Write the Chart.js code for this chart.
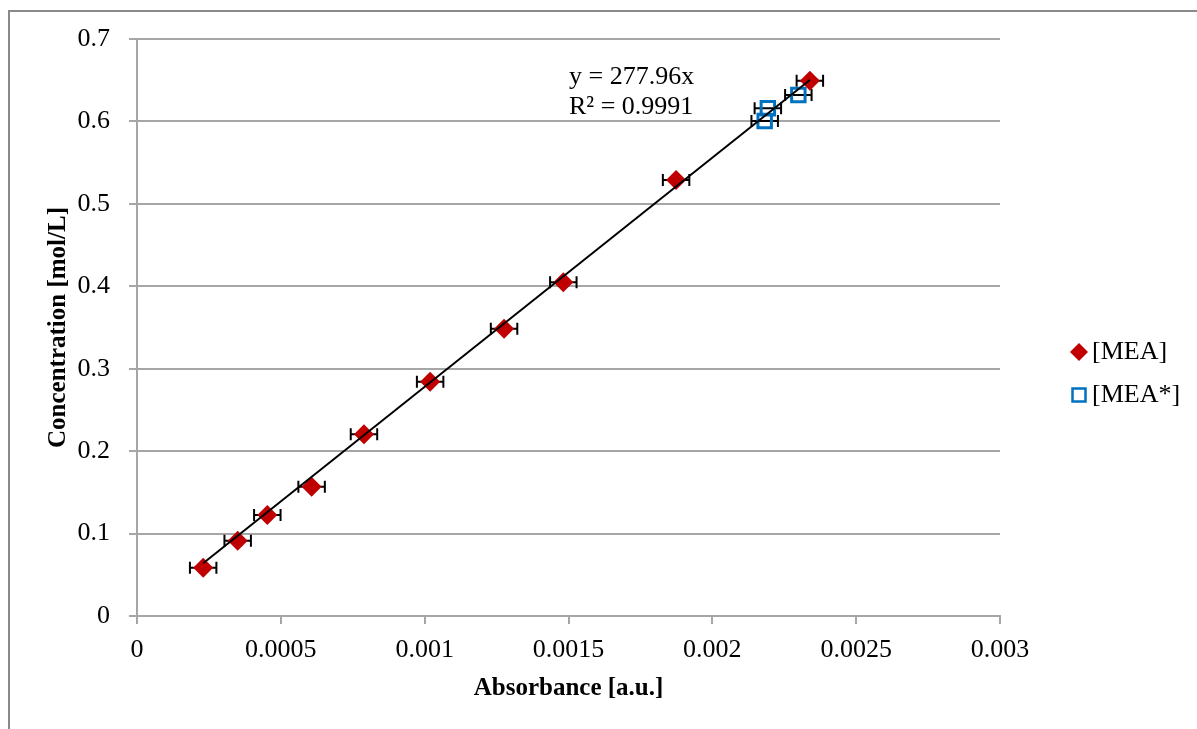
<!DOCTYPE html>
<html><head><meta charset="utf-8">
<script src="https://cdn.jsdelivr.net/npm/chart.js@4.4.0/dist/chart.umd.min.js"></script>
<style>html,body{margin:0;padding:0;background:#fff;} #wrap{width:1197px;height:729px;position:relative;}</style>
</head><body><div id="wrap"><canvas id="c" width="1197" height="729"></canvas></div>
<script>
const SERIES_NAMES = ['[MEA]', '[MEA*]'];
const MEA_X = [0.000230, 0.000350, 0.000453, 0.000607, 0.000789, 0.001019, 0.001276, 0.001482, 0.001874, 0.002339];
const MEA_Y = [0.0586, 0.0914, 0.1225, 0.1569, 0.2204, 0.2842, 0.3485, 0.4048, 0.5289, 0.6494];
const MEA_STAR_X = [0.002193, 0.002182, 0.002299];
const MEA_STAR_Y = [0.6160, 0.6005, 0.6321];
const X_ERR = 0.000046;
const TREND_SLOPE = 277.96;
const TREND_LABELS = ['y = 277.96x', 'R\u00B2 = 0.9991'];
const X_TICKS = [0, 0.0005, 0.001, 0.0015, 0.002, 0.0025, 0.003];
const X_TICK_LABELS = ['0', '0.0005', '0.001', '0.0015', '0.002', '0.0025', '0.003'];
const Y_TICKS = [0, 0.1, 0.2, 0.3, 0.4, 0.5, 0.6, 0.7];
const Y_TICK_LABELS = ['0', '0.1', '0.2', '0.3', '0.4', '0.5', '0.6', '0.7'];
const X_TITLE = 'Absorbance [a.u.]';
const Y_TITLE = 'Concentration [mol/L]';

const FONT = "'Liberation Serif', 'Times New Roman', serif";
const RED = '#C00000';
const BLUE = '#0070C0';
const GRID = '#A6A6A6';

const meaData = MEA_X.map((x, i) => ({x: x, y: MEA_Y[i]}));
const meaStarData = MEA_STAR_X.map((x, i) => ({x: x, y: MEA_STAR_Y[i]}));
const xMin = Math.min(...MEA_X), xMax = Math.max(...MEA_X);
const trendData = [{x: xMin, y: TREND_SLOPE * xMin}, {x: xMax, y: TREND_SLOPE * xMax}];

const frame = {
  id: 'frame',
  beforeDraw(chart) {
    const ctx = chart.ctx;
    ctx.save();
    ctx.fillStyle = '#fff';
    ctx.fillRect(0, 0, chart.width, chart.height);
    ctx.strokeStyle = '#898989';
    ctx.lineWidth = 2;
    ctx.strokeRect(9, 11, chart.width + 20, chart.height + 20);
    ctx.restore();
  }
};

const errorBars = {
  id: 'errorBars',
  beforeDatasetsDraw(chart) {
    const ctx = chart.ctx, xs = chart.scales.x, ys = chart.scales.y;
    ctx.save();
    ctx.strokeStyle = '#000';
    ctx.lineWidth = 2;
    const all = meaData.concat(meaStarData);
    all.forEach(p => {
      const x1 = xs.getPixelForValue(p.x - X_ERR);
      const x2 = xs.getPixelForValue(p.x + X_ERR);
      const y = ys.getPixelForValue(p.y);
      ctx.beginPath();
      ctx.moveTo(x1, y); ctx.lineTo(x2, y);
      ctx.moveTo(x1, y - 6); ctx.lineTo(x1, y + 6);
      ctx.moveTo(x2, y - 6); ctx.lineTo(x2, y + 6);
      ctx.stroke();
    });
    ctx.restore();
  }
};

const overlay = {
  id: 'overlay',
  afterDraw(chart) {
    const ctx = chart.ctx;
    ctx.save();
    ctx.fillStyle = '#000';
    ctx.font = '26px ' + FONT;
    ctx.textAlign = 'left';
    ctx.textBaseline = 'alphabetic';
    ctx.fillText(TREND_LABELS[0], 569, 84);
    ctx.fillText(TREND_LABELS[1], 569, 114);
    // legend
    const lx = 1079;
    const y1 = 352, y2 = 395;
    ctx.fillStyle = RED;
    ctx.beginPath();
    ctx.moveTo(lx - 9, y1); ctx.lineTo(lx, y1 - 9); ctx.lineTo(lx + 9, y1); ctx.lineTo(lx, y1 + 9);
    ctx.closePath(); ctx.fill();
    ctx.strokeStyle = BLUE; ctx.lineWidth = 2.5;
    ctx.strokeRect(lx - 6.5, y2 - 6.5, 13, 13);
    ctx.fillStyle = '#000';
    ctx.textBaseline = 'middle';
    ctx.fillText(SERIES_NAMES[0], 1092, y1);
    ctx.fillText(SERIES_NAMES[1], 1092, y2);
    ctx.restore();
  }
};

new Chart(document.getElementById('c'), {
  type: 'scatter',
  data: {
    datasets: [
      {label: 'trend', type: 'line', data: trendData, borderColor: '#000', borderWidth: 2, pointRadius: 0, fill: false, order: 0},
      {label: SERIES_NAMES[0], data: meaData, pointStyle: 'rectRot', pointRadius: 10, pointHoverRadius: 10,
        backgroundColor: RED, borderColor: RED, borderWidth: 0, order: 1},
      {label: SERIES_NAMES[1], data: meaStarData, pointStyle: 'rect', pointRadius: 9.5, pointHoverRadius: 9.5,
        backgroundColor: 'rgba(0,0,0,0)', borderColor: BLUE, borderWidth: 3, order: 2}
    ]
  },
  options: {
    responsive: false,
    animation: false,
    devicePixelRatio: 1,
    layout: {padding: {left: 0, top: 39, right: 197, bottom: 0}},
    plugins: {legend: {display: false}, tooltip: {enabled: false}},
    scales: {
      x: {
        type: 'linear', min: 0, max: 0.003,
        afterFit(s) { s.height = 113; },
        afterBuildTicks(s) { s.ticks = X_TICKS.map(v => ({value: v})); },
        grid: {display: true, drawOnChartArea: false, drawTicks: true, tickLength: 8, color: GRID, tickColor: GRID, lineWidth: 2},
        border: {display: true, color: GRID, width: 2},
        ticks: {color: '#000', font: {family: FONT, size: 26}, padding: 11, maxRotation: 0,
          callback: (v, i) => X_TICK_LABELS[i]},
        title: {display: true, text: X_TITLE, color: '#000', font: {family: FONT, size: 25, weight: 'bold'}, padding: {top: 0, bottom: 25}}
      },
      y: {
        type: 'linear', min: 0, max: 0.7,
        afterFit(s) { s.width = 137; },
        afterBuildTicks(s) { s.ticks = Y_TICKS.map(v => ({value: v})); },
        grid: {display: true, drawOnChartArea: true, drawTicks: true, tickLength: 8, color: GRID, tickColor: GRID, lineWidth: 2},
        border: {display: true, color: GRID, width: 2},
        ticks: {color: '#000', font: {family: FONT, size: 26}, padding: 19,
          callback: (v, i) => Y_TICK_LABELS[i]},
        title: {display: true, text: Y_TITLE, color: '#000', font: {family: FONT, size: 25, weight: 'bold'}, padding: {top: 44, bottom: 0}}
      }
    }
  },
  plugins: [frame, errorBars, overlay]
});
</script>
</body></html>
